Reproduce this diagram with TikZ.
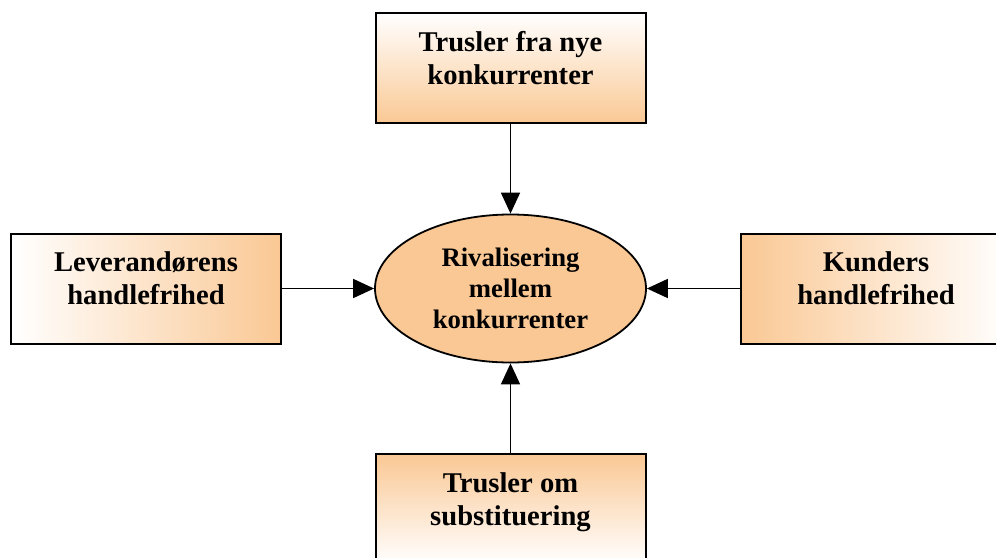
\documentclass[tikz,border=0pt]{standalone}
\usepackage{fontspec}
\setmainfont{Liberation Serif}
\usetikzlibrary{arrows.meta,shapes.geometric}
\definecolor{peach}{RGB}{250,200,148}
\tikzset{
  force/.style={draw=black, line width=2pt, minimum width=270pt, minimum height=110pt,
    inner sep=0pt, align=center, text height=53pt, text depth=21pt,
    font=\fontsize{28.6}{33}\selectfont\bfseries},
  rival/.style={ellipse, draw=black, line width=1.8pt, fill=peach, minimum width=271pt,
    minimum height=148pt, inner sep=0pt, align=center,
    font=\fontsize{26.7}{31}\selectfont\bfseries},
  arr/.style={line width=1.7pt, -{Triangle[length=21pt,width=19pt]}}
}
\begin{document}
\begin{tikzpicture}[x=1pt,y=-1pt]
  \useasboundingbox (0,0) rectangle (996,557);
  \clip (0,0) rectangle (996,557);
  \fill[white] (0,0) rectangle (996,557);

  % the five forces
  \node[force, top color=white, bottom color=peach] (new) at (510.5,68)
    {Trusler fra nye\\konkurrenter};
  \node[force, left color=white, right color=peach] (sup) at (146,288.5)
    {Leverandørens\\handlefrihed};
  \node[force, left color=peach, right color=white] (cust) at (876,288.5)
    {Kunders\\handlefrihed};
  \node[force, top color=peach, bottom color=white] (subst) at (510.5,509)
    {Trusler om\\substituering};
  \node[rival] (riv) at (510.5,288.5) {Rivalisering\\mellem\\konkurrenter};

  % pressures on the rivalry
  \draw[arr] (new.south) -- (riv.north);
  \draw[arr] (sup.east) -- (riv.west);
  \draw[arr] (cust.west) -- (riv.east);
  \draw[arr] (subst.north) -- (riv.south);
\end{tikzpicture}
\end{document}
